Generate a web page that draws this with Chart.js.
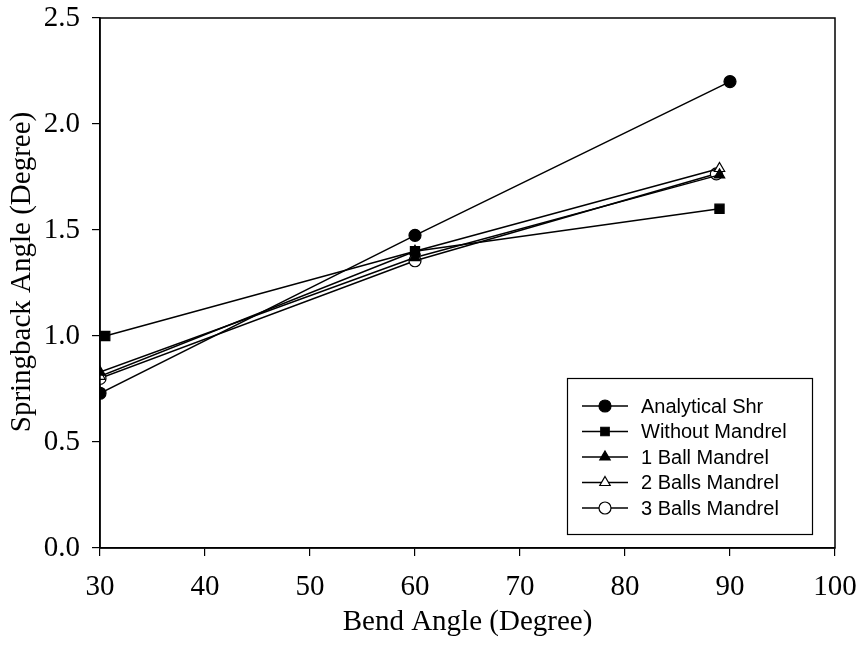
<!DOCTYPE html>
<html>
<head>
<meta charset="utf-8">
<script src="https://cdn.jsdelivr.net/npm/chart.js@4"></script>
<style>
  html, body { margin: 0; padding: 0; background: #fff; }
  #wrap { width: 859px; height: 656px; }
</style>
</head>
<body>
<div id="wrap"><canvas id="chart" width="859" height="656"></canvas></div>
<script>
// bend angle positions (x) and springback values (y) per series
const seriesNames = ['Analytical Shr', 'Without Mandrel', '1 Ball Mandrel', '2 Balls Mandrel', '3 Balls Mandrel'];
const analyticalX = [30, 60, 90];
const analyticalY = [0.73, 1.475, 2.2];
const withoutX = [30.5, 60, 89];
const withoutY = [1.0, 1.40, 1.60];
const ball1X = [30, 60, 89];
const ball1Y = [0.83, 1.37, 1.76];
const ball2X = [30, 60, 89];
const ball2Y = [0.81, 1.40, 1.79];
const ball3X = [30, 60, 88.7];
const ball3Y = [0.80, 1.355, 1.765];
const xTicks = [30, 40, 50, 60, 70, 80, 90, 100];
const yTicks = [0.0, 0.5, 1.0, 1.5, 2.0, 2.5];
const yTitle = 'Springback Angle (Degree)';

function pts(xs, ys) {
    return xs.map((x, i) => ({ x: x, y: ys[i] }));
}

const markers = [
    { style: 'circle', fill: '#000' },
    { style: 'rect', fill: '#000' },
    { style: 'triangle', fill: '#000' },
    { style: 'triangle', fill: '#fff' },
    { style: 'circle', fill: '#fff' }
];
const allData = [pts(analyticalX, analyticalY), pts(withoutX, withoutY), pts(ball1X, ball1Y), pts(ball2X, ball2Y), pts(ball3X, ball3Y)];

const datasets = seriesNames.map((name, i) => ({
    label: name,
    data: allData[i],
    borderColor: '#000',
    borderWidth: 1.5,
    backgroundColor: markers[i].fill,
    pointStyle: markers[i].style,
    pointRadius: markers[i].style === 'rect' ? 6.5 : 6,
    pointBorderColor: '#000',
    pointBorderWidth: 1.2,
    pointBackgroundColor: markers[i].fill,
    tension: 0,
    fill: false
}));

const serif = '"Liberation Serif", "Times New Roman", serif';

// frame round the plot, y title (sits a bit above centre) and the boxed legend
const framePlugin = {
    id: 'frame',
    afterDraw(chart) {
        const ctx = chart.ctx;
        const a = chart.chartArea;
        ctx.save();
        ctx.strokeStyle = '#000';
        ctx.lineWidth = 1.5;
        ctx.strokeRect(a.left, a.top, a.right - a.left, a.bottom - a.top);

        ctx.save();
        ctx.translate(22, 272);
        ctx.rotate(-Math.PI / 2);
        ctx.font = '29px ' + serif;
        ctx.fillStyle = '#000';
        ctx.textAlign = 'center';
        ctx.textBaseline = 'middle';
        ctx.fillText(yTitle, 0, 0);
        ctx.restore();

        // legend
        const lx = 567, ly = 378, lw = 245, lh = 156;
        ctx.lineWidth = 1.2;
        ctx.fillStyle = '#fff';
        ctx.fillRect(lx, ly, lw, lh);
        ctx.strokeRect(lx + 0.5, ly + 0.5, lw, lh);
        ctx.font = '20px "Liberation Sans", Arial, sans-serif';
        ctx.textBaseline = 'middle';
        chart.data.datasets.forEach((ds, i) => {
            const y = ly + 28 + i * 25.5;
            ctx.strokeStyle = '#000';
            ctx.lineWidth = 1.5;
            ctx.beginPath();
            ctx.moveTo(lx + 15, y);
            ctx.lineTo(lx + 61, y);
            ctx.stroke();
            ctx.fillStyle = ds.pointBackgroundColor;
            ctx.lineWidth = 1.2;
            Chart.helpers.drawPoint(ctx, { pointStyle: ds.pointStyle, radius: 6, borderWidth: 1.2 }, lx + 38, y);
            ctx.fillStyle = '#000';
            ctx.fillText(ds.label, lx + 74, y + 1);
        });
        ctx.restore();
    }
};

new Chart(document.getElementById('chart'), {
    type: 'line',
    data: { datasets: datasets },
    plugins: [framePlugin],
    options: {
        responsive: false,
        animation: false,
        layout: { padding: { top: 18, right: 24, left: 0, bottom: 0 } },
        plugins: { legend: { display: false }, tooltip: { enabled: false } },
        scales: {
            x: {
                type: 'linear',
                min: 30, max: 100,
                afterBuildTicks: s => { s.ticks = xTicks.map(v => ({ value: v })); },
                afterFit: s => { s.height = 108; s.paddingLeft = 0; s.paddingRight = 0; },
                grid: { display: true, drawOnChartArea: false, drawTicks: true, tickLength: 8, color: '#000', lineWidth: 1.2 },
                border: { display: true, color: '#000', width: 1.5 },
                ticks: { color: '#000', font: { family: serif, size: 29 }, padding: 14, maxRotation: 0 },
                title: { display: true, text: 'Bend Angle (Degree)', color: '#000', font: { family: serif, size: 29 }, padding: { top: 0, bottom: 16 } }
            },
            y: {
                min: 0, max: 2.5,
                afterBuildTicks: s => { s.ticks = yTicks.map(v => ({ value: v })); },
                afterFit: s => { s.width = 100; s.paddingTop = 0; s.paddingBottom = 0; },
                grid: { display: true, drawOnChartArea: false, drawTicks: true, tickLength: 8, color: '#000', lineWidth: 1.2 },
                border: { display: true, color: '#000', width: 1.5 },
                ticks: { color: '#000', font: { family: serif, size: 29 }, padding: 12, callback: v => v.toFixed(1) },
                title: { display: false }
            }
        }
    }
});
</script>
</body>
</html>
